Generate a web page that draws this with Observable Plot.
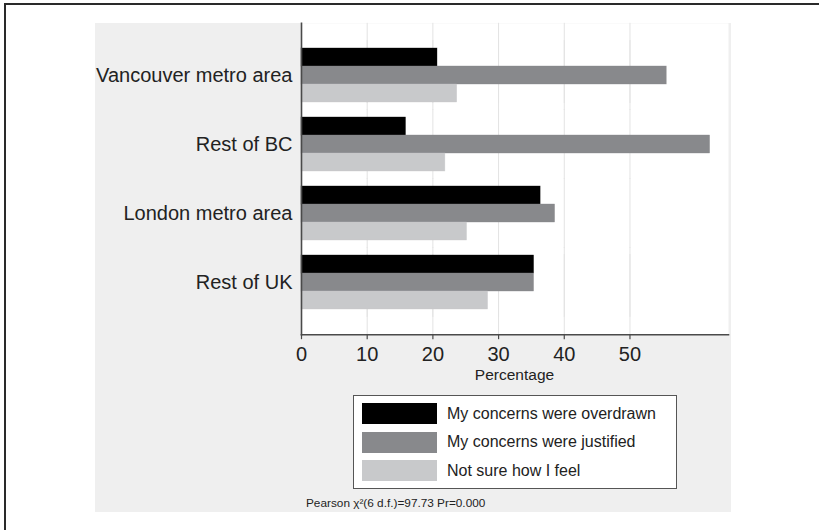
<!DOCTYPE html>
<html>
<head>
<meta charset="utf-8">
<script src="https://cdn.jsdelivr.net/npm/d3@7"></script>
<script src="https://cdn.jsdelivr.net/npm/@observablehq/plot@0.6"></script>
<style>
  html, body { margin: 0; padding: 0; background: #fff; }
  #page { position: relative; width: 819px; height: 530px; overflow: hidden; background: #fff;
          font-family: "Liberation Sans", Arial, sans-serif; color: #222; }
  #frameTop { position: absolute; left: 4px; top: 2.5px; width: 815px; height: 2px; background: #2a2a2a; }
  #frameLeft { position: absolute; left: 3.5px; top: 2.5px; width: 2px; height: 528px; background: #2a2a2a; }
  #panel { position: absolute; left: 95px; top: 23px; width: 636px; height: 489px; background: #efefef; }
  #chart { position: absolute; left: 0; top: 0; }
  #xlabel { position: absolute; left: 301px; width: 427px; top: 366px; text-align: center; font-size: 15.5px; color: #222; }
  #legend { position: absolute; left: 353px; top: 395px; width: 322px; height: 92px; background: #fff;
            border: 1.5px solid #555; }
  .lg-row { position: absolute; left: 8px; height: 21px; display: flex; align-items: center; }
  .lg-sw { width: 75px; height: 21px; margin-right: 10px; }
  .lg-tx { font-size: 16px; color: #222; white-space: nowrap; }
  #note { position: absolute; left: 306px; top: 496px; font-size: 11.8px; color: #222; white-space: nowrap; }
</style>
</head>
<body>
<div id="page">
  <div id="frameTop"></div>
  <div id="frameLeft"></div>
  <div id="panel"></div>
  <div id="chart"></div>
  <div id="xlabel"></div>
  <div id="legend"></div>
  <div id="note"></div>
</div>
<script>
const regions = ["Vancouver metro area", "Rest of BC", "London metro area", "Rest of UK"];
const series = ["My concerns were overdrawn", "My concerns were justified", "Not sure how I feel"];
const colors = ["#000000", "#88898c", "#c8c9cb"];
const overdrawn = [20.7, 15.9, 36.4, 35.4];
const justified = [55.6, 62.2, 38.6, 35.4];
const notSure = [23.7, 21.9, 25.2, 28.4];
const xTicks = [0, 10, 20, 30, 40, 50];
const gridTicks = [10, 20, 30, 40, 50];
const xLabel = "Percentage";
const note = "Pearson \u03C7\u00B2(6 d.f.)=97.73 Pr=0.000";

const valuesBySeries = [overdrawn, justified, notSure];
const data = [];
regions.forEach((r, i) => {
  series.forEach((s, j) => data.push({region: r, series: s, value: valuesBySeries[j][i]}));
});

// facet band geometry (used to extend the frame and grid through the padding around groups)
const W = 819, H = 392, mT = 23, mB = 57;
const pInner = 0.185, pOuter = 0.35;
const step = (H - mT - mB) / (regions.length - pInner + 2 * pOuter);
const halfGap = step * pInner / 2 + 0.5;
const outerGap = step * pOuter;

const firstGrid = gridTicks.map(t => ({t, region: regions[0]}));
const lastGrid = gridTicks.map(t => ({t, region: regions[regions.length - 1]}));
const gridStyle = {stroke: "#e3e3e3", strokeWidth: 1};
const axisStyle = {stroke: "#4a4a4a", strokeWidth: 1.6};

const chart = Plot.plot({
  width: W,
  height: H,
  marginLeft: 301,
  marginRight: 91,
  marginTop: mT,
  marginBottom: mB,
  style: {background: "transparent", fontFamily: "Liberation Sans, Arial, sans-serif", color: "#222", overflow: "visible"},
  x: {domain: [0, 65], axis: null},
  y: {domain: series, padding: 0, axis: null},
  fy: {domain: regions, paddingInner: pInner, paddingOuter: pOuter, axis: null},
  color: {domain: series, range: colors},
  facet: {data: data, y: "region"},
  marks: [
    Plot.frame({fill: "white", stroke: "none", facet: "super", insetTop: -outerGap, insetBottom: -outerGap}),
    Plot.ruleX(gridTicks, {x: d => d, ...gridStyle, insetTop: -halfGap, insetBottom: -halfGap}),
    Plot.ruleX(firstGrid, {x: "t", fy: "region", ...gridStyle, insetTop: -outerGap}),
    Plot.ruleX(lastGrid, {x: "t", fy: "region", ...gridStyle, insetBottom: -outerGap}),
    Plot.barX(data, {y: "series", x: "value", fill: "series", stroke: "series", strokeOpacity: 0.6, strokeWidth: 0.6}),
    Plot.frame({anchor: "left", ...axisStyle, facet: "super", insetTop: -outerGap, insetBottom: -outerGap}),
    Plot.frame({anchor: "bottom", ...axisStyle, facet: "super", insetBottom: -outerGap}),
    Plot.axisX({ticks: xTicks, tickSize: 5, tickPadding: 7, fontSize: 20, label: null, dy: outerGap, stroke: "#4a4a4a", strokeWidth: 1.2}),
    Plot.axisFy({anchor: "left", tickSize: 0, tickPadding: 9, fontSize: 20, label: null})
  ]
});
document.getElementById("chart").appendChild(chart);
document.getElementById("xlabel").textContent = xLabel;

const legend = document.getElementById("legend");
series.forEach((s, j) => {
  const row = document.createElement("div");
  row.className = "lg-row";
  row.style.top = (7 + j * 28.5) + "px";
  const sw = document.createElement("div");
  sw.className = "lg-sw";
  sw.style.background = colors[j];
  const tx = document.createElement("div");
  tx.className = "lg-tx";
  tx.textContent = s;
  row.appendChild(sw);
  row.appendChild(tx);
  legend.appendChild(row);
});
document.getElementById("note").textContent = note;
</script>
</body>
</html>
